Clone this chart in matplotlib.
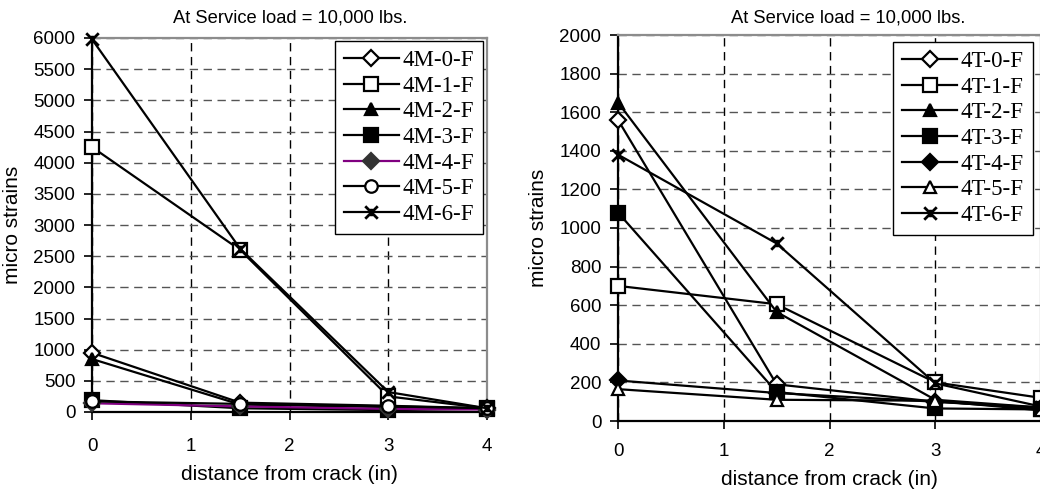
import matplotlib.pyplot as plt
from matplotlib.path import Path

# distances from crack (in)
dist = [0, 1.5, 3, 4]

# left panel: 4M specimens (micro strains)
m_labels = ["4M-0-F", "4M-1-F", "4M-2-F", "4M-3-F", "4M-4-F", "4M-5-F", "4M-6-F"]
m0 = [950, 150, 100, 60]
m1 = [4250, 2600, 250, 60]
m2 = [850, 120, 80, 50]
m3 = [190, 60, 30, 50]
m4 = [140, 90, 50, 40]
m5 = [170, 130, 90, 60]
m6 = [5980, 2620, 320, 60]

# right panel: 4T specimens (micro strains)
t_labels = ["4T-0-F", "4T-1-F", "4T-2-F", "4T-3-F", "4T-4-F", "4T-5-F", "4T-6-F"]
t0 = [1560, 190, 100, 70]
t1 = [700, 605, 200, 120]
t2 = [1650, 565, 110, 70]
t3 = [1080, 150, 65, 60]
t4 = [210, 145, 100, 65]
t5 = [165, 110, 105, 55]
t6 = [1380, 920, 195, 75]

sans = "Liberation Sans"
serif = "Liberation Serif"

# excel-style star: an X with a short vertical stroke
star = Path([(-1, -1), (1, 1), (-1, 1), (1, -1), (0, -0.6), (0, 0.6)],
            [Path.MOVETO, Path.LINETO, Path.MOVETO, Path.LINETO, Path.MOVETO, Path.LINETO])

# marker, face colour, line colour for each series
m_styles = [("D", "white", "black"), ("s", "white", "black"), ("^", "black", "black"),
            ("s", "black", "black"), ("D", "#333333", "#800080"), ("o", "white", "black"),
            (star, "black", "black")]
t_styles = [("D", "white", "black"), ("s", "white", "black"), ("^", "black", "black"),
            ("s", "black", "black"), ("D", "black", "black"), ("^", "white", "black"),
            (star, "black", "black")]
sizes = {"D": 8, "^": 9, "o": 9, "s": 10}

W, H = 1040, 497
fig = plt.figure(figsize=(W / 100, H / 100), dpi=100)


def px(x0, y0, x1, y1):
    return [x0 / W, 1 - y1 / H, (x1 - x0) / W, (y1 - y0) / H]


def panel(rect, series, labels, styles, ymax, ystep, legend_xy, title_x, xpad):
    ax = fig.add_axes(rect)
    for vals, lab, (mk, fc, lc) in zip(series, labels, styles):
        is_star = not isinstance(mk, str)
        ec = "#333333" if fc == "#333333" else "black"
        ax.plot(dist, vals, color=lc, lw=1.6, marker=mk,
                markersize=9 if is_star else sizes[mk],
                markerfacecolor=fc, markeredgecolor=ec,
                markeredgewidth=2.0 if is_star else 1.6, label=lab, clip_on=False, zorder=3)
    ax.set_xlim(0, 4)
    ax.set_ylim(0, ymax)
    ax.set_xticks([0, 1, 2, 3, 4])
    ax.set_yticks(range(0, ymax + 1, ystep))
    ax.grid(axis="y", ls=(0, (6, 4)), color="#555555", lw=1)
    ax.grid(axis="x", ls=(0, (6, 4)), color="black", lw=1)
    ax.set_axisbelow(True)
    for s in ("left", "bottom"):
        ax.spines[s].set_linewidth(1.6)
        ax.spines[s].set_color("black")
    for s in ("top", "right"):
        ax.spines[s].set_linewidth(1.6)
        ax.spines[s].set_color("#8c8c8c")
    ax.tick_params(axis="x", direction="out", length=6, width=1.2, pad=xpad, labelsize=13.5)
    ax.tick_params(axis="y", direction="out", length=6, width=1.2, pad=6, labelsize=13.5)
    for t in ax.get_xticklabels() + ax.get_yticklabels():
        t.set_fontfamily(sans)
    ax.set_xlabel("distance from crack (in)", fontsize=15, family=sans, labelpad=7)
    ax.set_ylabel("micro strains", fontsize=15, family=sans, labelpad=8)
    fig.text(title_x / W, 1 - 18 / H, "At Service load = 10,000 lbs.", ha="center", va="center",
             fontsize=13.2, family=sans)
    leg = ax.legend(loc="upper right", bbox_to_anchor=(legend_xy[0] / W, 1 - legend_xy[1] / H),
                    bbox_transform=fig.transFigure, borderaxespad=0, frameon=True, fancybox=False,
                    edgecolor="black", framealpha=1, handlelength=2.4, handletextpad=0.15,
                    labelspacing=0.2, borderpad=0.4, prop={"family": serif, "size": 16.5})
    leg.get_frame().set_linewidth(1.0)
    return ax


panel(px(92, 38, 487, 412), [m0, m1, m2, m3, m4, m5, m6], m_labels, m_styles,
      6000, 500, (483, 41), 290, 13)
panel(px(618, 35, 1041, 421), [t0, t1, t2, t3, t4, t5, t6], t_labels, t_styles,
      2000, 200, (1033, 42), 848, 10)

fig.savefig("out.png", dpi=100)
